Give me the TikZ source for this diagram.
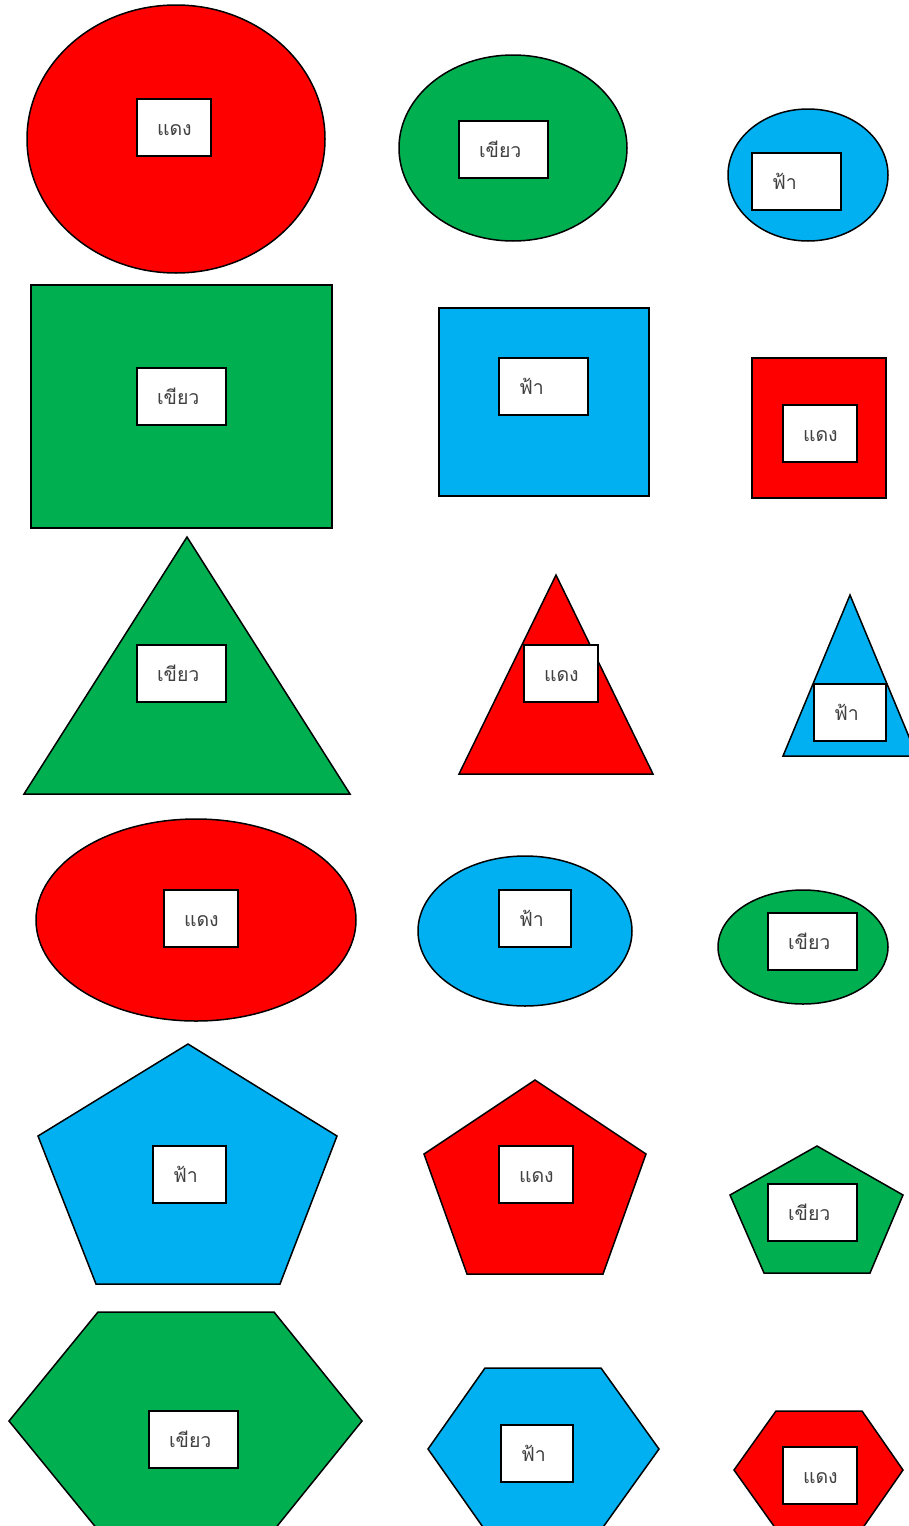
\documentclass[tikz,border=0pt]{standalone}
\usepackage{fontspec}
\usepackage{xcolor}
\usepackage{tikz}
\newfontfamily\thaifont[Script=Thai]{Loma}
\definecolor{shapered}{HTML}{FF0000}
\definecolor{shapegreen}{HTML}{00B050}
\definecolor{shapeblue}{HTML}{00B0F0}
\definecolor{labeltext}{HTML}{404040}

\begin{document}
\begin{tikzpicture}[x=1pt, y=-1pt,
  shp/.style={draw=black, line width=1.5pt, line join=miter},
  lbl/.style={draw=black, fill=white, line width=1.6pt, minimum height=57pt, inner ysep=0pt, inner xsep=20pt, text height=18pt, text depth=3pt, align=left, text=labeltext, font=\thaifont\fontsize{19.5}{22}\selectfont}]
\useasboundingbox (0,0) rectangle (909,1526);
\clip (0,0) rectangle (909,1526);

% row 1: ellipses
\filldraw[shp, fill=shapered] (176,139) ellipse [x radius=149pt, y radius=134pt];
\filldraw[shp, fill=shapegreen] (513,148) ellipse [x radius=114pt, y radius=93pt];
\filldraw[shp, fill=shapeblue] (808,175) ellipse [x radius=80pt, y radius=66pt];
\node[lbl, text width=34pt] (e1) at (174,127.5) {แดง};
\node[lbl, text width=49pt] (e2) at (503.5,149.5) {เขียว};
\node[lbl, text width=49pt] (e3) at (796.5,181.5) {ฟ้า};

% row 2: rectangles
\filldraw[shp, fill=shapegreen] (31,285) rectangle (332,528);
\filldraw[shp, fill=shapeblue] (439,308) rectangle (649,496);
\filldraw[shp, fill=shapered] (752,358) rectangle (886,498);
\node[lbl, text width=49pt] (r1) at (181.5,396.5) {เขียว};
\node[lbl, text width=49pt] (r2) at (543.5,386.5) {ฟ้า};
\node[lbl, text width=34pt] (r3) at (820,433.5) {แดง};

% row 3: triangles
\filldraw[shp, fill=shapegreen] (187,537) -- (350,794) -- (24,794) -- cycle;
\filldraw[shp, fill=shapered] (556,575) -- (653,774) -- (459,774) -- cycle;
\filldraw[shp, fill=shapeblue] (850,595) -- (917,756) -- (783,756) -- cycle;
\node[lbl, text width=49pt] (t1) at (181.5,673.5) {เขียว};
\node[lbl, text width=34pt] (t2) at (561,673.5) {แดง};
\node[lbl, text width=32pt] (t3) at (850,712.5) {ฟ้า};

% row 4: ellipses
\filldraw[shp, fill=shapered] (196,920) ellipse [x radius=160pt, y radius=101pt];
\filldraw[shp, fill=shapeblue] (525,931) ellipse [x radius=107pt, y radius=75pt];
\filldraw[shp, fill=shapegreen] (803,947) ellipse [x radius=85pt, y radius=57pt];
\node[lbl, text width=34pt] (o1) at (201,918.5) {แดง};
\node[lbl, text width=32pt] (o2) at (535,918.5) {ฟ้า};
\node[lbl, text width=49pt] (o3) at (812.5,941.5) {เขียว};

% row 5: pentagons
\filldraw[shp, fill=shapeblue] (188,1044) -- (337,1136) -- (280,1284) -- (96,1284) -- (38,1136) -- cycle;
\filldraw[shp, fill=shapered] (535,1080) -- (646,1154) -- (603,1274) -- (467,1274) -- (424,1154) -- cycle;
\filldraw[shp, fill=shapegreen] (817,1146) -- (903,1195) -- (870,1273) -- (764,1273) -- (730,1195) -- cycle;
\node[lbl, text width=33pt] (p1) at (189.5,1174.5) {ฟ้า};
\node[lbl, text width=34pt] (p2) at (536,1174.5) {แดง};
\node[lbl, text width=49pt] (p3) at (812.5,1212.5) {เขียว};

% row 6: hexagons
\filldraw[shp, fill=shapegreen] (98,1312) -- (274,1312) -- (362,1421) -- (274,1530) -- (98,1530) -- (9,1421) -- cycle;
\filldraw[shp, fill=shapeblue] (485,1368) -- (601,1368) -- (659,1449) -- (601,1530) -- (485,1530) -- (428,1449) -- cycle;
\filldraw[shp, fill=shapered] (776,1411) -- (862,1411) -- (903,1470) -- (862,1529) -- (776,1529) -- (734,1470) -- cycle;
\node[lbl, text width=49pt] (h1) at (193.5,1439.5) {เขียว};
\node[lbl, text width=32pt] (h2) at (537,1453.5) {ฟ้า};
\node[lbl, text width=34pt] (h3) at (820,1475.5) {แดง};
\end{tikzpicture}
\end{document}
